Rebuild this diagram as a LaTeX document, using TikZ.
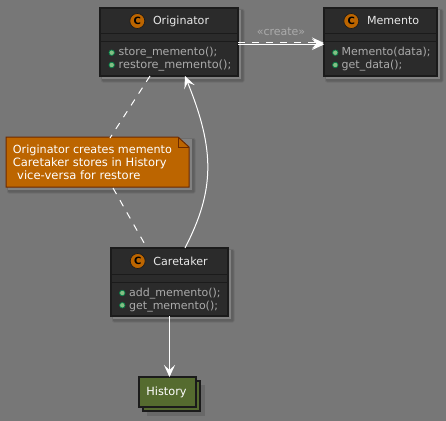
\documentclass[tikz,border=0pt]{standalone}
\usepackage{fontspec}
\setmainfont{DejaVu Sans}
\usetikzlibrary{arrows.meta}
\definecolor{bgc}{HTML}{777777}
\definecolor{boxc}{HTML}{2B2B2B}
\definecolor{edgec}{HTML}{1B1B1B}
\definecolor{methc}{HTML}{ABABAB}
\definecolor{titlec}{HTML}{E8E8E8}
\definecolor{orangec}{HTML}{BC6500}
\definecolor{noteedge}{HTML}{6C2A00}
\definecolor{olivec}{HTML}{556B2F}
\definecolor{dotf}{HTML}{84BE84}
\definecolor{dote}{HTML}{038048}
\definecolor{shlight}{HTML}{8A8A8A}
\tikzset{
  x=1pt,y=-1pt,
  boxstyle/.style={draw=edgec,line width=1.1pt,fill=boxc,inner sep=0pt,outer sep=0pt,anchor=north west},
  sepline/.style={edgec,line width=1pt},
  titletext/.style={font=\fontsize{11.1}{13}\selectfont,text=titlec,anchor=base west,inner sep=0pt},
  methtext/.style={font=\fontsize{11}{13}\selectfont,text=methc,anchor=base west,inner sep=0pt},
  notetext/.style={text=white,anchor=base west,inner sep=0pt},
  cdisc/.style={circle,draw=edgec,line width=0.7pt,fill=orangec,minimum size=15pt,inner sep=0pt,font=\bfseries\fontsize{10}{10}\selectfont,text=black},
  mdot/.style={circle,draw=dote,line width=0.7pt,fill=dotf,minimum size=5.5pt,inner sep=0pt},
  conn/.style={white,line width=1pt},
  dashconn/.style={white,line width=1pt,dash pattern=on 7pt off 7pt},
  headarrow/.style={-{Stealth[length=12pt,width=11pt,inset=5pt]}},
  shade1/.style={fill=black,fill opacity=0.08,rounded corners=2pt},
  shade2/.style={fill=black,fill opacity=0.12,rounded corners=1pt},
}
\newcommand{\softshadow}[4]{%
  \fill[shade1] (#1+1,#2+1) rectangle (#3+6.5,#4+6.5);
  \fill[shade2] (#1+2,#2+2) rectangle (#3+5.5,#4+5.5);
  \fill[shlight,fill opacity=0.8] (#1+2,#2+2) rectangle (#3+3,#4+3);
}
\newcommand{\classbox}[7]{% name x1 y1 x2 y2 title titlex
  \softshadow{#2}{#3}{#4}{#5}
  \node[boxstyle,minimum width=#4pt-#2pt,minimum height=#5pt-#3pt] (#1) at (#2,#3) {};
  \draw[sepline] (#2,#3+26) -- (#4,#3+26);
  \draw[sepline] (#2,#3+34) -- (#4,#3+34);
  \node[cdisc] (#1disc) at (#7,#3+13) {C};
  \node[titletext] (#1title) at (#7+15.5,#3+17) {#6};
}
\begin{document}
\begin{tikzpicture}
\useasboundingbox (0,0) rectangle (446,420);
\fill[bgc] (-5,-5) rectangle (451,425);

\coordinate (oriDash) at (150,76);
\coordinate (noteIn) at (110,138);
\coordinate (noteOut) at (113,188);
\coordinate (careDash) at (147,248);
\coordinate (oriSolid) at (185,76);
\coordinate (careSolid) at (185,248);

\classbox{ori}{100}{8}{238}{76}{Originator}{137.3}
\classbox{mem}{324}{8}{437}{76}{Memento}{351.3}
\classbox{care}{111}{248}{228}{316}{Caretaker}{137.7}

\node[mdot] (d1) at (111.7,52.7) {};
\node[mdot] (d2) at (111.7,65) {};
\node[methtext] (m1) at (118.5,56) {store\_memento();};
\node[methtext,font=\fontsize{11.3}{13}\selectfont] (m2) at (118.5,68.7) {restore\_memento();};
\node[mdot] (d3) at (335.3,52.7) {};
\node[mdot] (d4) at (335.3,65) {};
\node[methtext] (m3) at (341.5,56) {Memento(data);};
\node[methtext] (m4) at (341.5,68.7) {get\_data();};
\node[mdot] (d5) at (122.3,293) {};
\node[mdot] (d6) at (122.3,305.3) {};
\node[methtext] (m5) at (129,296.3) {add\_memento();};
\node[methtext] (m6) at (129,309) {get\_memento();};

% note
\softshadow{6}{137}{189}{187}
\path[draw=noteedge,fill=orangec,line width=1pt] (6,137) -- (178,137) -- (189,147) -- (189,187) -- (6,187) -- cycle;
\draw[noteedge,line width=1pt] (178,137) -- (178,147) -- (189,147);
\node[notetext,font=\fontsize{11.2}{13}\selectfont] (n1) at (12.7,153) {Originator creates memento};
\node[notetext,font=\fontsize{11.5}{13}\selectfont] (n2) at (12.7,166.5) {Caretaker stores in History};
\node[notetext,font=\fontsize{11.55}{13}\selectfont] (n3) at (17,179.5) {vice-versa for restore};

% history
\fill[black,fill opacity=0.12] (147,385) rectangle (205,416);
\node[boxstyle,fill=olivec,minimum width=57pt,minimum height=30pt] (hist2) at (143,381) {};
\node[boxstyle,fill=olivec,minimum width=57pt,minimum height=30pt] (hist) at (139,377) {};
\node[font=\fontsize{11.3}{13}\selectfont,text=white,inner sep=0pt] (histt) at (166.5,392) {History};

% connectors
\draw[dashconn] (oriDash) -- (noteIn);
\draw[dashconn] (noteOut) -- (careDash);
\draw[conn,headarrow] (careSolid) .. controls (215,190) and (215,150) .. (oriSolid);
\draw[dashconn,headarrow] (ori.east |- 0,43) -- (mem.west |- 0,43);
\draw[conn,headarrow] (ori.east |- 0,44.5) -- (mem.west |- 0,44.5);
\node[font=\fontsize{11}{13}\selectfont,text=methc,inner sep=0pt] (crt) at (281,32) {«create»};
\draw[conn,headarrow] (care.south -| 169.5,0) -- (hist.north -| 169.5,0);
\end{tikzpicture}
\end{document}
